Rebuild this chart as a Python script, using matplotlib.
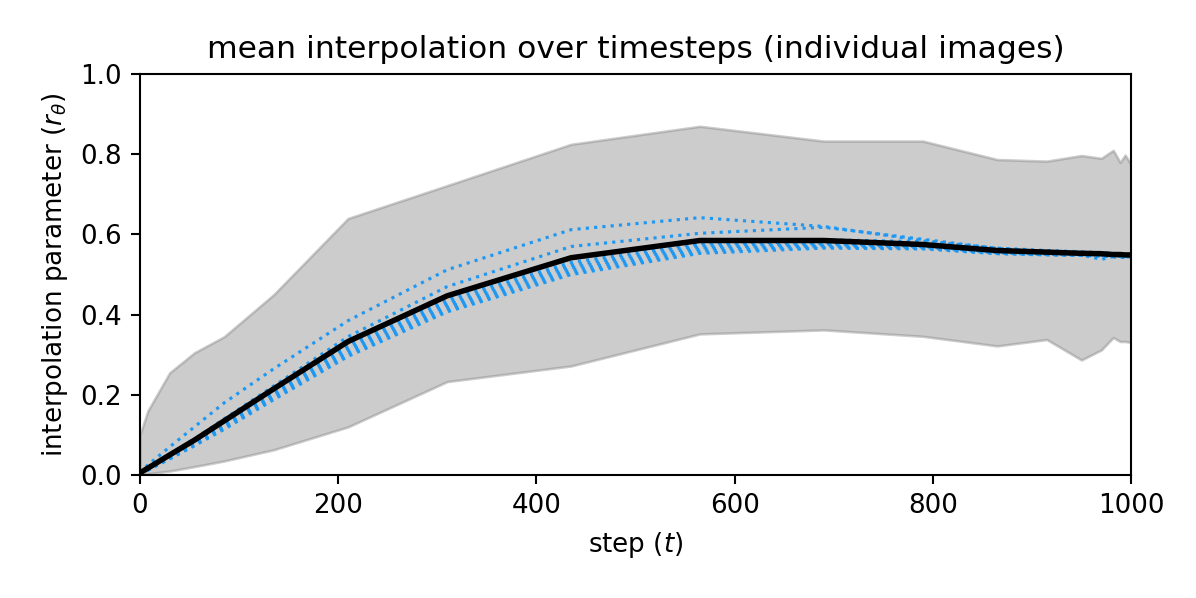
import matplotlib.pyplot as plt
import numpy as np

# timesteps where the values were recorded
steps = [0, 8, 30, 55, 85, 135, 210, 310, 435, 565, 690, 790, 865, 915, 950, 970, 982, 989, 994, 1000]

mean_r = [0.005, 0.017, 0.05, 0.087, 0.135, 0.215, 0.333, 0.447, 0.542, 0.585,
          0.585, 0.575, 0.56, 0.556, 0.553, 0.552, 0.55, 0.55, 0.549, 0.549]
upper_r = [0.10, 0.16, 0.255, 0.305, 0.345, 0.45, 0.64, 0.722, 0.825, 0.87,
           0.833, 0.833, 0.787, 0.783, 0.797, 0.79, 0.81, 0.78, 0.798, 0.775]
lower_r = [0.0, 0.003, 0.01, 0.021, 0.035, 0.063, 0.12, 0.233, 0.272, 0.352,
           0.362, 0.346, 0.322, 0.338, 0.287, 0.312, 0.343, 0.333, 0.333, 0.331]

# individual images
img_a = [0.005, 0.025, 0.07, 0.12, 0.18, 0.265, 0.385, 0.512, 0.612, 0.642,
         0.62, 0.585, 0.565, 0.558, 0.555, 0.553, 0.551, 0.55, 0.55, 0.55]
img_b = [0.005, 0.018, 0.052, 0.09, 0.14, 0.222, 0.345, 0.47, 0.57, 0.603,
         0.618, 0.588, 0.565, 0.557, 0.556, 0.554, 0.552, 0.551, 0.55, 0.55]
img_c1 = [0.004, 0.017, 0.05, 0.088, 0.136, 0.216, 0.336, 0.448, 0.54, 0.585,
          0.587, 0.582, 0.566, 0.56, 0.557, 0.555, 0.553, 0.551, 0.55, 0.55]
img_c2 = [0.004, 0.015, 0.046, 0.083, 0.129, 0.208, 0.325, 0.437, 0.53, 0.578,
          0.582, 0.576, 0.56, 0.555, 0.553, 0.551, 0.549, 0.548, 0.548, 0.548]
img_c3 = [0.003, 0.015, 0.045, 0.081, 0.126, 0.204, 0.319, 0.43, 0.523, 0.573,
          0.578, 0.572, 0.556, 0.553, 0.551, 0.549, 0.547, 0.546, 0.546, 0.546]
img_c4 = [0.003, 0.014, 0.044, 0.079, 0.123, 0.2, 0.313, 0.424, 0.517, 0.568,
          0.575, 0.57, 0.555, 0.551, 0.55, 0.549, 0.546, 0.547, 0.545, 0.545]
img_c5 = [0.003, 0.013, 0.042, 0.077, 0.12, 0.196, 0.307, 0.418, 0.511, 0.563,
          0.572, 0.568, 0.554, 0.55, 0.549, 0.538, 0.545, 0.546, 0.544, 0.545]
img_c6 = [0.002, 0.013, 0.041, 0.075, 0.117, 0.192, 0.301, 0.412, 0.505, 0.558,
          0.569, 0.566, 0.553, 0.55, 0.548, 0.547, 0.545, 0.544, 0.544, 0.545]
img_c7 = [0.002, 0.012, 0.04, 0.073, 0.114, 0.188, 0.296, 0.407, 0.5, 0.553,
          0.566, 0.564, 0.552, 0.549, 0.548, 0.546, 0.544, 0.543, 0.543, 0.544]

images = [img_a, img_b, img_c1, img_c2, img_c3, img_c4, img_c5, img_c6, img_c7]

fig = plt.figure(figsize=(1196 / 188, 598 / 188), dpi=188)
ax = fig.add_axes([0.117, 0.2057, 0.8287, 0.6703])

ax.fill_between(steps, lower_r, upper_r, color='grey', alpha=0.4)
for r in images:
    ax.plot(steps, r, color='#1e98f2', linestyle=':', linewidth=1.2)
ax.plot(steps, mean_r, color='black', linewidth=2.1)

ax.set_xlim(0, 1000)
ax.set_ylim(0, 1)
ax.set_title("mean interpolation over timesteps (individual images)")
ax.set_xlabel("step ($t$)")
ax.set_ylabel(r"interpolation parameter ($r_\theta$)")

plt.savefig("out.png", dpi=188)
